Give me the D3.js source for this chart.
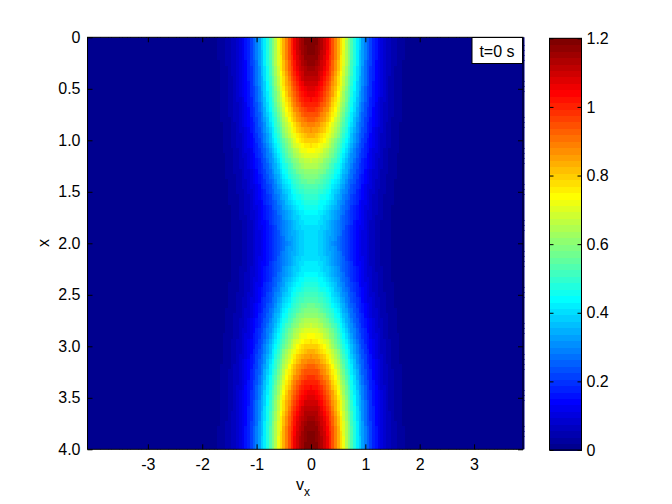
<!DOCTYPE html>
<html><head><meta charset="utf-8">
<script src="https://cdn.jsdelivr.net/npm/d3@7"></script>
<style>
body{margin:0;background:#fff;}
text{font-family:"Liberation Sans",Arial,Helvetica,sans-serif;}
</style></head>
<body><svg id="c" width="672" height="504"></svg>
<script>
// ---- data ----
// peak amplitude f(x, vx=0) for x = 0, 0.05, ..., 4.0
const xStep = 0.05;
const amplitude = [
1.200,1.199,1.195,1.189,1.180,1.170,1.156,1.141,1.124,1.104,
1.083,1.060,1.035,1.009,0.982,0.953,0.924,0.893,0.863,0.831,
0.800,0.769,0.737,0.707,0.676,0.647,0.618,0.591,0.565,0.540,
0.517,0.496,0.476,0.459,0.444,0.430,0.420,0.411,0.405,0.401,
0.400,
0.401,0.405,0.411,0.420,0.430,0.444,0.459,0.476,0.496,0.517,
0.540,0.565,0.591,0.618,0.647,0.676,0.707,0.737,0.769,0.800,
0.831,0.863,0.893,0.924,0.953,0.982,1.009,1.035,1.060,1.083,
1.104,1.124,1.141,1.156,1.170,1.180,1.189,1.195,1.199,1.200];
// normalised velocity profile for vx = -4.10, -4.05, ..., 3.90
const vStart = -4.1, vStep = 0.05;
const vProfile = [
0,0,0,0,0,0,0,0,0,0,0,0,0,0,0,0,0,0,0,0,0,
0,0,0,0,0,0,0,0,0,0,0,0,0,0,0,0,0,0,0,0,0,
0.0033,0.0044,0.0058,0.0075,0.0098,0.0126,0.016,0.0205,0.026,0.0323,
0.040,0.0496,0.061,0.074,0.089,0.107,0.128,0.151,0.178,0.207,
0.240,0.275,0.314,0.356,0.401,0.448,0.497,0.547,0.598,0.649,
0.700,0.749,0.796,0.839,0.879,0.915,0.944,0.968,0.986,0.996,
1.000,
0.996,0.986,0.968,0.944,0.915,0.879,0.839,0.796,0.749,0.700,
0.649,0.598,0.547,0.497,0.448,0.401,0.356,0.314,0.275,0.240,
0.207,0.178,0.151,0.128,0.107,0.089,0.074,0.061,0.0496,0.040,
0.0323,0.026,0.0205,0.016,0.0126,0.0098,0.0075,0.0058,0.0044,0.0033,
0,0,0,0,0,0,0,0,0,0,0,0,0,0,0,0,0,0,0,
0,0,0,0,0,0,0,0,0,0,0,0,0,0,0,0,0,0,0];
const xTicks = [-3,-2,-1,0,1,2,3];
const xTickLabels = ["-3","-2","-1","0","1","2","3"];
const yTicks = [0,0.5,1,1.5,2,2.5,3,3.5,4];
const yTickLabels = ["0","0.5","1.0","1.5","2.0","2.5","3.0","3.5","4.0"];
const cTicks = [0,0.2,0.4,0.6,0.8,1,1.2];
const cTickLabels = ["0","0.2","0.4","0.6","0.8","1","1.2"];
const xDomain = [-4.11, 3.9], yDomain = [0, 4], cDomain = [0, 1.2];
const legendText = "t=0 s";

// ---- jet(64) colormap ----
function jet(m){
  const n = Math.ceil(m/4), u = [];
  for(let i=1;i<=n;i++) u.push(i/n);
  for(let i=1;i<n;i++) u.push(1);
  for(let i=n;i>=1;i--) u.push(i/n);
  const gOff = Math.ceil(n/2) - (m%4===1?1:0);
  const R=new Array(m).fill(0),G=new Array(m).fill(0),B=new Array(m).fill(0);
  u.forEach((val,k)=>{
    const g=gOff+k+1, r=g+n, b=g-n;
    if(g>=1&&g<=m) G[g-1]=val;
    if(r>=1&&r<=m) R[r-1]=val;
    if(b>=1&&b<=m) B[b-1]=val;
  });
  return d3.range(m).map(i=>d3.rgb(R[i]*255,G[i]*255,B[i]*255).formatHex());
}
const cmap = jet(64);
const color = d3.scaleQuantize().domain(cDomain).range(cmap);

const svg = d3.select("#c");
const L=87.5, R=523, T=37.3, Bt=449.3;
const x = d3.scaleLinear().domain(xDomain).range([L,R]);
const y = d3.scaleLinear().domain(yDomain).range([T,Bt]);

svg.append("clipPath").attr("id","clip").append("rect")
  .attr("x",L).attr("y",T).attr("width",R-L+1.5).attr("height",Bt-T);

// cells
const cells=[];
amplitude.forEach((a,i)=>{
  vProfile.forEach((p,j)=>{
    cells.push({xc:i*xStep, vc:vStart+j*vStep, val:a*p});
  });
});
svg.append("g").attr("clip-path","url(#clip)").selectAll("rect").data(cells).join("rect")
  .attr("x",d=>x(d.vc-vStep/2))
  .attr("width",d=>x(d.vc+vStep/2)-x(d.vc-vStep/2)+0.5)
  .attr("y",d=>y(d.xc-xStep/2))
  .attr("height",d=>y(d.xc+xStep/2)-y(d.xc-xStep/2)+0.5)
  .attr("fill",d=>color(d.val))
  .attr("shape-rendering","crispEdges");

// axes
const fs = "16px";
const ax = g=>{g.select(".domain").remove(); g.selectAll("line").attr("stroke","#000"); g.selectAll("text").attr("font-size",fs).attr("fill","#000");};
svg.append("g").attr("transform",`translate(0,${Bt})`)
  .call(d3.axisBottom(x).tickValues(xTicks).tickFormat((d,i)=>xTickLabels[i]).tickSize(-5).tickPadding(9)).call(ax);
svg.append("g").attr("transform",`translate(0,${T})`)
  .call(d3.axisTop(x).tickValues(xTicks).tickFormat("").tickSize(-5)).call(ax);
svg.append("g").attr("transform",`translate(${L},0)`)
  .call(d3.axisLeft(y).tickValues(yTicks).tickFormat((d,i)=>yTickLabels[i]).tickSize(-5).tickPadding(7)).call(ax);
svg.append("g").attr("transform",`translate(${R},0)`)
  .call(d3.axisRight(y).tickValues(yTicks).tickFormat("").tickSize(-5)).call(ax);
svg.append("rect").attr("x",L).attr("y",T).attr("width",R-L).attr("height",Bt-T)
  .attr("fill","none").attr("stroke","#000").attr("stroke-width",1);

// axis labels
const xl = svg.append("text").attr("x",303).attr("y",490).attr("text-anchor","middle").attr("font-size","16px");
xl.append("tspan").text("v");
xl.append("tspan").attr("font-size","12px").attr("dy",6).text("x");
svg.append("text").attr("transform","translate(49,243) rotate(-90)").attr("text-anchor","middle")
  .attr("font-size","16px").text("x");

// legend box
svg.append("rect").attr("x",472).attr("y",37.5).attr("width",50.5).attr("height",26)
  .attr("fill","#fff").attr("stroke","#000");
svg.append("text").attr("x",497).attr("y",56.5).attr("text-anchor","middle").attr("font-size","16px").text(legendText);

// colorbar
const cbL=549.5, cbR=581.5, cbT=38.3, cbB=450;
const cy = d3.scaleLinear().domain(cDomain).range([cbB,cbT]);
const step = (cDomain[1]-cDomain[0])/cmap.length;
svg.append("g").selectAll("rect").data(cmap).join("rect")
  .attr("x",cbL).attr("width",cbR-cbL)
  .attr("y",(c,i)=>cy((i+1)*step)).attr("height",(c,i)=>cy(i*step)-cy((i+1)*step)+0.5)
  .attr("fill",c=>c).attr("shape-rendering","crispEdges");
svg.append("g").attr("transform",`translate(${cbR},0)`)
  .call(d3.axisRight(cy).tickValues(cTicks).tickFormat((d,i)=>cTickLabels[i]).tickSize(-4).tickPadding(5)).call(ax);
svg.append("g").attr("transform",`translate(${cbL},0)`)
  .call(d3.axisLeft(cy).tickValues(cTicks).tickFormat("").tickSize(-4)).call(ax);
svg.append("rect").attr("x",cbL).attr("y",cbT).attr("width",cbR-cbL).attr("height",cbB-cbT)
  .attr("fill","none").attr("stroke","#000");
</script></body></html>
